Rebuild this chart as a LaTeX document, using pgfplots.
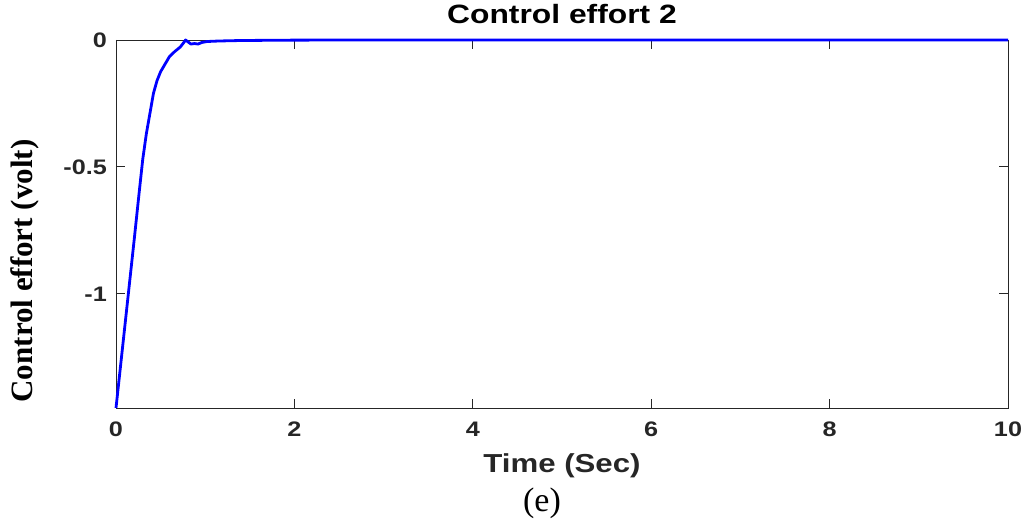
\documentclass[border=0pt]{standalone}
\usepackage{pgfplots}
\pgfplotsset{compat=1.18}
\usepackage{fontspec}
\setmainfont{Liberation Serif}
\newfontfamily\hv[FakeStretch=1.2]{Liberation Sans}
\definecolor{txtgray}{RGB}{38,38,38}

\begin{document}
\begin{tikzpicture}
\path[use as bounding box] (-116pt,-116pt) rectangle (912pt,408pt);
\begin{axis}[
  at={(0,0)}, anchor=south west,
  scale only axis, width=892pt, height=368pt,
  xmin=0, xmax=10, ymin=-1.45, ymax=0,
  clip=false,
  axis line style={line width=0.9pt, color=txtgray},
  tick style={line width=0.9pt, color=txtgray},
  tick align=inside, major tick length=9pt,
  xtick={0,2,4,6,8,10}, xticklabels={0,2,4,6,8,10},
  ytick={-1,-0.5,0}, yticklabels={-1,-0.5,0},
  xticklabel style={font=\hv\bfseries\fontsize{21}{24}\selectfont, text=txtgray,
    anchor=base, inner sep=0pt, yshift=-29pt},
  yticklabel style={font=\hv\bfseries\fontsize{21}{24}\selectfont, text=txtgray,
    anchor=east, inner sep=0pt, xshift=-9pt},
  title={Control effort 2},
  title style={font=\hv\bfseries\fontsize{26.5}{30}\selectfont, text=black,
    at={(axis description cs:0.5,1)}, anchor=base, inner sep=0pt, yshift=10pt},
  xlabel={Time (Sec)},
  xlabel style={font=\hv\bfseries\fontsize{26}{30}\selectfont, text=txtgray,
    at={(axis description cs:0.5,0)}, anchor=base, inner sep=0pt, yshift=-64pt},
  ylabel={Control effort (volt)},
  ylabel style={font=\bfseries\fontsize{31}{34}\selectfont, text=black,
    at={(axis description cs:0,0.5)}, anchor=center, inner sep=0pt,
    xshift=-47pt, yshift=91pt},
]
\addplot[color=blue, line width=2.8pt, line join=round] coordinates {
  (0,-1.45) (0.10,-1.125) (0.20,-0.80) (0.26,-0.60) (0.30,-0.47)
  (0.34,-0.37) (0.38,-0.29) (0.42,-0.21) (0.46,-0.16) (0.50,-0.125)
  (0.55,-0.095) (0.60,-0.065) (0.66,-0.045) (0.72,-0.028) (0.76,-0.010)
  (0.78,0.0) (0.81,-0.008) (0.84,-0.016) (0.88,-0.014) (0.92,-0.016)
  (0.96,-0.010) (1.02,-0.006) (1.15,-0.004) (1.40,-0.002) (2.0,-0.0005)
  (3.0,0) (10,0)
};
\node[font=\fontsize{34}{38}\selectfont, anchor=base, inner sep=0pt]
  at (axis description cs:0.5,0) [xshift=-20pt, yshift=-103pt] {(e)};
\end{axis}
\end{tikzpicture}
\end{document}
